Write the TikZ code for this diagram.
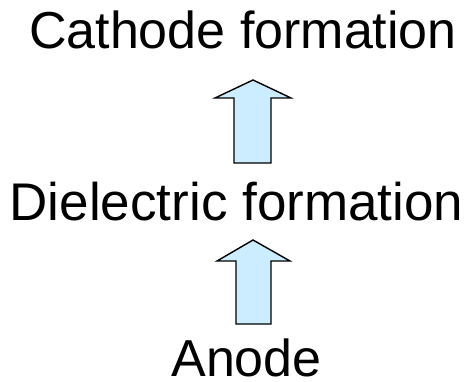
\documentclass[tikz,border=0pt]{standalone}
\usepackage{fontspec}
\setmainfont{Liberation Sans}
\definecolor{arrowfill}{HTML}{CCECFF}
\begin{document}
\begin{tikzpicture}[x=1pt,y=1pt,
  lbl/.style={anchor=base,inner sep=0pt,font=\fontsize{52}{60}\selectfont},
  blockarrow/.style={draw=black,fill=arrowfill,line width=1.4pt,line join=miter}]
\useasboundingbox (0,0) rectangle (474,381);
\node[lbl] (cath) at (243,332) {Cathode formation};
\node[lbl,font=\fontsize{53}{60}\selectfont] (diel) at (236.5,161) {Dielectric formation};
\node[lbl] (anod) at (246.5,5) {Anode};
% upper arrow
\draw[blockarrow] (234,218) -- (234,283) -- (215,283) -- (253,301) -- (291,283) -- (271,283) -- (271,218) -- cycle;
% lower arrow
\draw[blockarrow] (236,57) -- (236,120) -- (217,120) -- (253,141) -- (290,120) -- (271,120) -- (271,57) -- cycle;
\end{tikzpicture}
\end{document}
